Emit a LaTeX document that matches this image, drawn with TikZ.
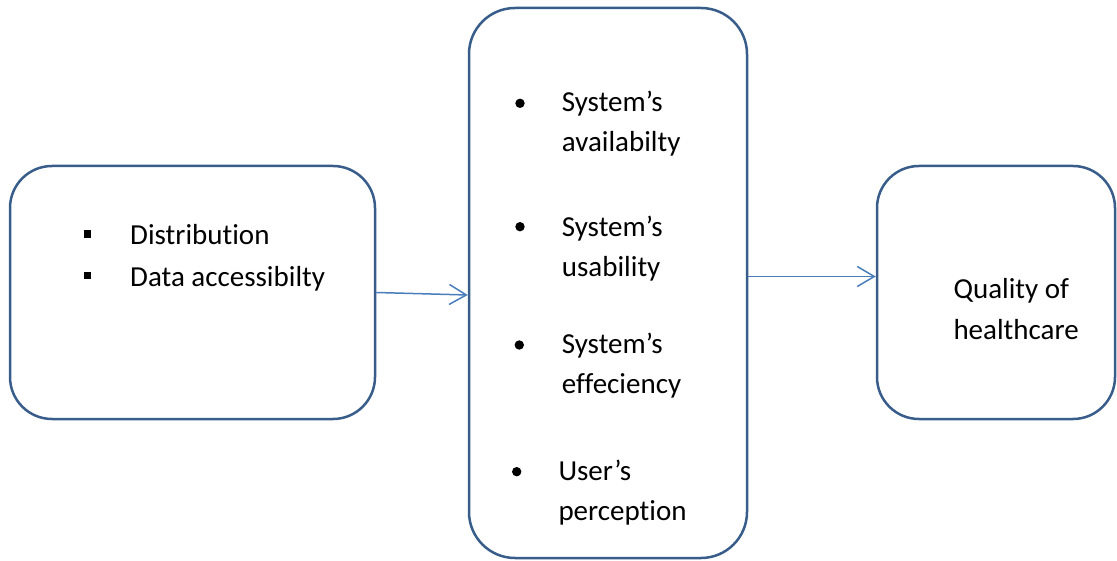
\documentclass[tikz,border=0pt]{standalone}
\usepackage{fontspec}
\setmainfont{Carlito}[RawFeature={-liga;-clig;-dlig;-calt}]
\usepackage{tikz}
\usetikzlibrary{arrows.meta}

\definecolor{boxline}{RGB}{56,93,138}
\definecolor{linkline}{RGB}{74,126,187}

\tikzset{
  box/.style={draw=boxline,line width=2.5pt,inner sep=0pt},
  link/.style={draw=linkline,line width=1.5pt,-{Straight Barb[length=17pt,width=20pt,line width=1.5pt]}},
  txt/.style={anchor=base west,inner sep=0pt,font=\fontsize{29}{40}\selectfont},
  sq/.style={fill=black,minimum size=7.5pt,inner sep=0pt},
  dot/.style={circle,fill=black,minimum size=9.4pt,inner sep=0pt}
}

\begin{document}
\begin{tikzpicture}[x=1pt,y=-1pt]
  \useasboundingbox (0,0) rectangle (1117,561);

  % the three boxes
  \node[box,minimum width=365pt,minimum height=253pt,rounded corners=42pt] (dist) at (192.5,292.5) {};
  \node[box,minimum width=278pt,minimum height=550pt,rounded corners=46pt] (sys) at (608,283) {};
  \node[box,minimum width=238pt,minimum height=253pt,rounded corners=42pt] (qual) at (996,292.5) {};

  % left list
  \node[sq] (s1) at (87.5,234) {};
  \node[sq] (s2) at (87.5,275.7) {};
  \node[txt] (distr) at (130,245) {Distribution};
  \node[txt] (acc) at (130,287) {Data accessibilty};

  % middle list
  \node[dot] (d1) at (520,103.3) {};
  \node[dot] (d2) at (520,226.7) {};
  \node[dot] (d3) at (519.3,345) {};
  \node[dot] (d4) at (516.7,471.7) {};
  \node[txt] (avail1) at (561.7,111.7) {System’s};
  \node[txt] (avail2) at (561.7,151.7) {availabilty};
  \node[txt] (usab1) at (561.7,236.7) {System’s};
  \node[txt] (usab2) at (561.7,276.7) {usability};
  \node[txt] (eff1) at (561.7,353.3) {System’s};
  \node[txt] (eff2) at (561.7,393.3) {effeciency};
  \node[txt] (perc1) at (558.3,480) {User’s};
  \node[txt] (perc2) at (558.3,520) {perception};

  % right box
  \node[txt] (q1) at (953.3,298.3) {Quality of};
  \node[txt] (q2) at (953.3,340) {healthcare};

  % arrows
  \coordinate (in1) at ([yshift=-2.5pt]dist.east -| sys.west);
  \coordinate (in2) at ([yshift=16pt]qual.west);
  \draw[link] (dist.east) -- (in1);
  \draw[link] (sys.east |- in2) -- (in2);
\end{tikzpicture}
\end{document}
